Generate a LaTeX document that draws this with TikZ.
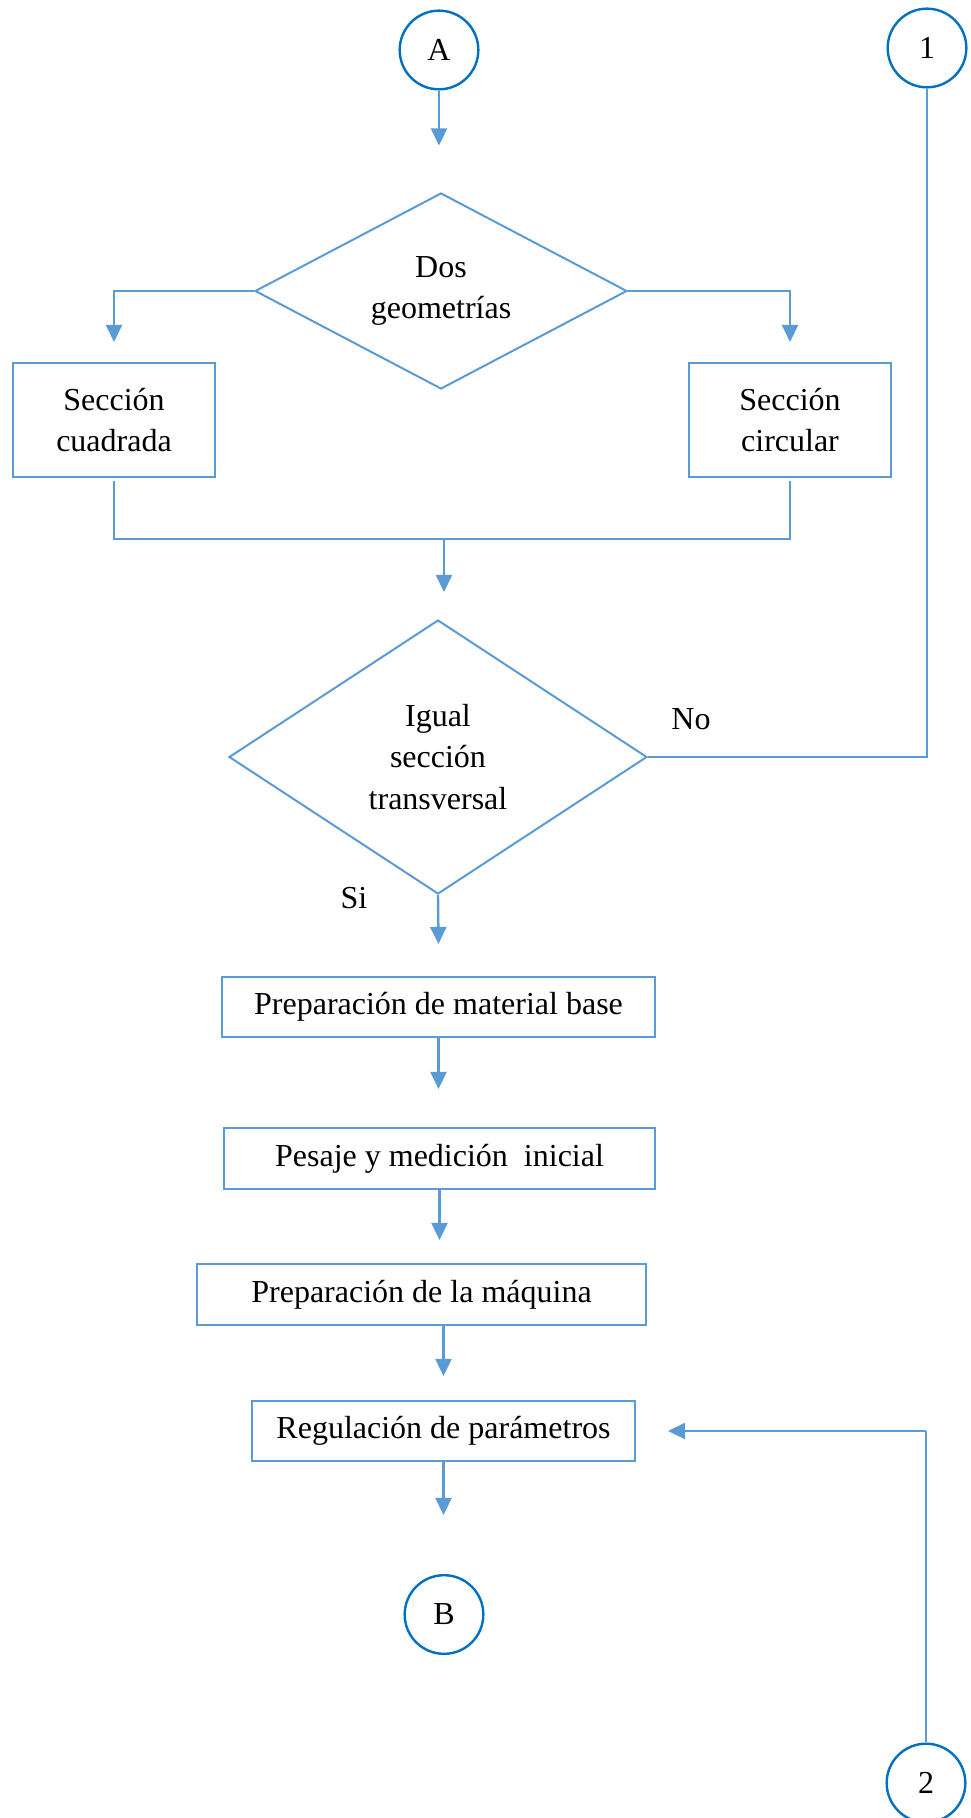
\documentclass[tikz,border=0pt]{standalone}
\usepackage{fontspec}
\setmainfont{Liberation Serif}
\usepackage{xcolor}
\usepackage{tikz}
\usetikzlibrary{shapes,arrows,positioning,calc,arrows.meta}
\definecolor{linea}{RGB}{91,155,213}
\definecolor{conector}{RGB}{0,112,192}

\begin{document}
\begin{tikzpicture}[x=0.375pt,y=-0.375pt,font=\fontsize{12}{15.5}\selectfont,
    caja/.style={draw=linea,line width=0.75pt,align=center,inner sep=2pt},
    decision/.style={diamond,aspect=2,draw=linea,line width=0.75pt,align=center,inner sep=0pt},
    conec/.style={circle,draw=conector,line width=0.9pt,minimum size=29.5pt,inner sep=0pt},
    flecha/.style={draw=linea,line width=0.9pt,-{Triangle[width=6pt,length=6.4pt]}},
    fino/.style={draw=linea,line width=0.45pt}]
    \useasboundingbox (0,0) rectangle (970,1818);

    \node[conec] (A) at (439,50) {A};
    \node[conec] (c1) at (927,48) {1};
    \node[decision,minimum width=139.5pt,minimum height=73.5pt] (geo) at (441,291) {Dos\\geometrías};
    \node[caja,minimum width=76pt,minimum height=42.75pt] (cuad) at (114,420) {Sección\\cuadrada};
    \node[caja,minimum width=76pt,minimum height=42.75pt] (circ) at (790,420) {Sección\\circular};
    \node[decision,minimum width=156.75pt,minimum height=102.75pt] (igual) at (438,757) {Igual\\sección\\transversal};
    \node (no) at (691,719) {No};
    \node (si) at (354,898) {Si};
    \node[caja,minimum width=162.4pt,minimum height=22.5pt] (mat) at (438.5,1007) {Preparación de material base};
    \node[caja,minimum width=161.6pt,minimum height=22.9pt] (pes) at (439.5,1158.5) {Pesaje y medición\ \ inicial};
    \node[caja,minimum width=168.4pt,minimum height=22.9pt] (maq) at (421.5,1294.5) {Preparación de la máquina};
    \node[caja,minimum width=143.6pt,minimum height=22.5pt] (reg) at (443.5,1431) {Regulación de parámetros};
    \node[conec] (B) at (444,1614.5) {B};
    \node[conec] (c2) at (926,1783) {2};

    \draw[flecha] (A.south) -- ++(0,55);
    \draw[flecha] (geo.west) -| ([yshift=7.5pt]cuad.north); % a la izquierda
    \draw[flecha] (geo.east) -| ([yshift=7.5pt]circ.north); % a la derecha
    \coordinate (junta) at (444,539);
    \draw[fino] ([yshift=-1pt]cuad.south) |- (junta) -| ([yshift=-1pt]circ.south);
    \draw[flecha] (junta) -- ++(0,53);
    \draw[fino] (igual.east) -| (c1.south); % No
    \draw[flecha] (igual.south) -- ([yshift=12pt]mat.north); % Si
    \draw[flecha] (mat.south) -- ++(0,51);
    \draw[flecha] (pes.south) -- ++(0,50);
    \draw[flecha] (maq.south -| reg.north) -- ++(0,50);
    \draw[flecha] (reg.south) -- ++(0,53);
    \coordinate (esq) at (c2.north |- reg.east);
    \draw[fino] (c2.north) -- (esq);
    \draw[flecha] (esq) -- ([xshift=12pt]reg.east);
\end{tikzpicture}
\end{document}
